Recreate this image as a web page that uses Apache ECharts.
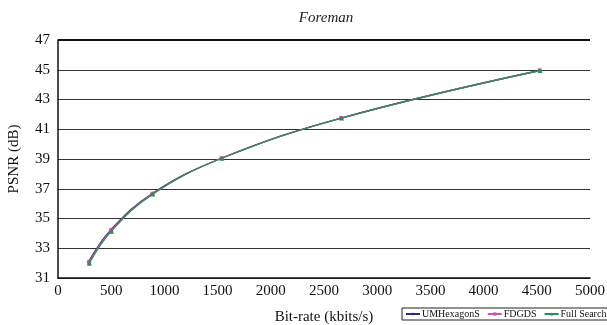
<!DOCTYPE html>
<html>
<head>
<meta charset="utf-8">
<script src="https://cdn.jsdelivr.net/npm/echarts@6/dist/echarts.min.js"></script>
<style>
  html, body { margin: 0; padding: 0; background: #fff; }
  #chart { width: 607px; height: 325px; }
</style>
</head>
<body>
<div id="chart"></div>
<script>
// 数据 (bit-rate kbits/s, PSNR dB)
const seriesNames = ['UMHexagonS', 'FDGDS', 'Full Search']
const umhexagons = [[288, 32.1], [498, 34.25], [885, 36.68], [1535, 39.05], [2660, 41.75], [4525, 44.95]]
const fdgds = [[292, 32.05], [500, 34.2], [888, 36.66], [1538, 39.05], [2662, 41.75], [4528, 44.95]]
const fullSearch = [[295, 32.0], [502, 34.15], [890, 36.64], [1540, 39.05], [2665, 41.75], [4530, 44.95]]
const colors = ['#2b2c7c', '#d94fb0', '#2e8a5a']
const symbols = ['diamond', 'rect', 'triangle']

const myChart = echarts.init(document.getElementById('chart'))
const font = 'Liberation Serif'

const option = {
  animation: false,
  textStyle: { fontFamily: font },
  title: {
    text: 'Foreman',
    left: 321,
    top: 6,
    textAlign: 'center',
    textStyle: { fontFamily: font, fontStyle: 'italic', fontWeight: 'normal', fontSize: 15, color: '#222' }
  },
  legend: {
    data: seriesNames,
    left: 402,
    top: 308,
    width: 260,
    itemGap: 7,
    itemWidth: 14,
    itemHeight: 4,
    padding: [1, 3],
    borderColor: '#222',
    borderWidth: 1,
    textStyle: { fontFamily: font, fontSize: 10, color: '#111', padding: [0, 0, 0, -3] }
  },
  grid: { left: 58, right: 17, top: 40, bottom: 47, containLabel: false, outerBoundsMode: 'none' },
  xAxis: {
    type: 'value',
    min: 0,
    max: 5000,
    interval: 500,
    name: 'Bit-rate (kbits/s)',
    nameLocation: 'middle',
    nameGap: 32,
    nameTextStyle: { fontFamily: font, fontSize: 15, color: '#111' },
    axisLine: { lineStyle: { color: '#111', width: 1.5 } },
    axisTick: { show: false },
    axisLabel: { fontFamily: font, fontSize: 15, color: '#111', margin: 6, formatter: v => String(v) },
    splitLine: { show: false }
  },
  yAxis: {
    type: 'value',
    min: 31,
    max: 47,
    interval: 2,
    name: 'PSNR (dB)',
    nameLocation: 'middle',
    nameGap: 36,
    nameTextStyle: { fontFamily: font, fontSize: 15, color: '#111' },
    axisLine: { show: true, lineStyle: { color: '#111', width: 1.5 } },
    axisTick: { show: false },
    axisLabel: { fontFamily: font, fontSize: 15, color: '#111', margin: 8 },
    splitLine: { lineStyle: { color: '#333', width: 1 } }
  },
  series: [umhexagons, fdgds, fullSearch].map((d, i) => ({
    name: seriesNames[i],
    type: 'line',
    data: d,
    smooth: 0.4,
    z: 2 + i,
    symbol: symbols[i],
    symbolSize: i === 2 ? 5 : 4,
    showSymbol: true,
    lineStyle: { width: 1.3, color: colors[i] },
    itemStyle: { color: colors[i] },
    markLine: i === 0 ? {
      silent: true,
      symbol: 'none',
      label: { show: false },
      lineStyle: { color: '#111', width: 2, type: 'solid' },
      data: [{ yAxis: 47 }]
    } : undefined
  }))
}

myChart.setOption(option)
window.addEventListener('resize', () => {
  myChart.resize()
})
</script>
</body>
</html>
